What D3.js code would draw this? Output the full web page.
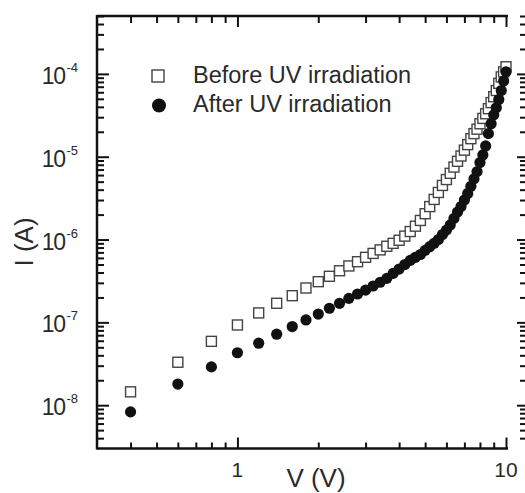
<!DOCTYPE html>
<html>
<head>
<meta charset="utf-8">
<script src="https://cdn.jsdelivr.net/npm/d3@7"></script>
<style>
  body { margin: 0; background: #fff; }
  text { font-family: "Liberation Sans", Arial, sans-serif; fill: #2a2a2a; }
</style>
</head>
<body>
<div id="chart"></div>
<script>
// voltage points (V)
var voltage = [0.4, 0.6, 0.8, 1.0, 1.2, 1.4, 1.6, 1.8, 2.0, 2.2, 2.4, 2.6, 2.8, 3.0, 3.2, 3.4, 3.6, 3.8,
  4.0, 4.2, 4.4, 4.6, 4.8, 5.0, 5.2, 5.4, 5.6, 5.8, 6.0, 6.2, 6.4, 6.6, 6.8, 7.0, 7.2, 7.4, 7.6, 7.8,
  8.0, 8.2, 8.4, 8.6, 8.8, 9.0, 9.2, 9.4, 9.6, 9.8, 10.0];

// current before UV (A)
var currentBefore = [1.45e-8, 3.3e-8, 5.9e-8, 9.3e-8, 1.3e-7, 1.7e-7, 2.1e-7, 2.6e-7, 3.1e-7, 3.6e-7,
  4.2e-7, 4.8e-7, 5.4e-7, 6.1e-7, 6.8e-7, 7.5e-7, 8.3e-7, 9.0e-7, 9.8e-7, 1.1e-6, 1.25e-6, 1.45e-6,
  1.7e-6, 2.05e-6, 2.5e-6, 3.05e-6, 3.7e-6, 4.5e-6, 5.3e-6, 6.3e-6, 7.5e-6, 8.8e-6, 1.02e-5, 1.2e-5,
  1.4e-5, 1.65e-5, 1.9e-5, 2.15e-5, 2.5e-5, 2.9e-5, 3.3e-5, 3.8e-5, 4.5e-5, 5.3e-5, 6.3e-5, 7.7e-5,
  9.2e-5, 1.06e-4, 1.22e-4];

// current after UV (A)
var currentAfter = [8.3e-9, 1.8e-8, 2.9e-8, 4.3e-8, 5.6e-8, 7.2e-8, 8.9e-8, 1.07e-7, 1.26e-7, 1.48e-7,
  1.7e-7, 1.95e-7, 2.2e-7, 2.45e-7, 2.75e-7, 3.05e-7, 3.4e-7, 3.9e-7, 4.4e-7, 5.0e-7, 5.6e-7, 6.1e-7,
  6.6e-7, 7.4e-7, 8.2e-7, 9.0e-7, 1.0e-6, 1.15e-6, 1.3e-6, 1.5e-6, 1.8e-6, 2.15e-6, 2.5e-6, 3.0e-6,
  3.6e-6, 4.4e-6, 5.4e-6, 6.6e-6, 8.5e-6, 1.05e-5, 1.35e-5, 1.9e-5, 2.5e-5, 3.2e-5, 3.9e-5, 4.9e-5,
  6.3e-5, 8.2e-5, 1.06e-4];

var seriesNames = ["Before UV irradiation", "After UV irradiation"];

// ticks
var xMajor = [1, 10];
var xMinor = [0.4, 0.5, 0.6, 0.7, 0.8, 0.9, 2, 3, 4, 5, 6, 7, 8, 9];
var xLabels = ["1", "10"];
var yMajor = [1e-8, 1e-7, 1e-6, 1e-5, 1e-4];
var yMinor = [4e-9, 5e-9, 6e-9, 7e-9, 8e-9, 9e-9,
  2e-8, 3e-8, 4e-8, 5e-8, 6e-8, 7e-8, 8e-8, 9e-8,
  2e-7, 3e-7, 4e-7, 5e-7, 6e-7, 7e-7, 8e-7, 9e-7,
  2e-6, 3e-6, 4e-6, 5e-6, 6e-6, 7e-6, 8e-6, 9e-6,
  2e-5, 3e-5, 4e-5, 5e-5, 6e-5, 7e-5, 8e-5, 9e-5,
  2e-4, 3e-4, 4e-4, 5e-4];
var yExponents = ["-8", "-7", "-6", "-5", "-4"];

var width = 525, height = 493;
var plotLeft = 97, plotRight = 506, plotTop = 16, plotBottom = 448.5;

var x = d3.scaleLog().domain([0.3, 10]).range([plotLeft, plotRight]);
var y = d3.scaleLog().domain([3e-9, 5e-4]).range([plotBottom, plotTop]);

var svg = d3.select("#chart").append("svg")
  .attr("width", width)
  .attr("height", height);

// draws inward ticks with an axis generator, no labels
function ticks(axisFn, scale, values, size, tx, ty) {
  var g = svg.append("g")
    .attr("transform", "translate(" + tx + "," + ty + ")")
    .call(axisFn(scale).tickValues(values).tickSize(-size).tickFormat(""));
  g.select(".domain").remove();
  g.selectAll("line").attr("stroke", "#111").attr("stroke-width", 2);
  return g;
}

ticks(d3.axisBottom, x, xMinor, 6, 0, plotBottom);
ticks(d3.axisBottom, x, xMajor, 11, 0, plotBottom);
ticks(d3.axisTop, x, xMinor, 7, 0, plotTop);
ticks(d3.axisTop, x, xMajor, 11, 0, plotTop);
ticks(d3.axisLeft, y, yMinor, 7, plotLeft, 0);
ticks(d3.axisLeft, y, yMajor, 12, plotLeft, 0);
// right side ticks (axis line itself sits just off the picture)
ticks(d3.axisRight, y, yMinor, 5, 525, 0);
ticks(d3.axisRight, y, yMajor, 8, 525, 0);

// frame lines
svg.append("line").attr("x1", plotLeft).attr("x2", plotLeft).attr("y1", plotTop - 1).attr("y2", plotBottom + 1)
  .attr("stroke", "#111").attr("stroke-width", 2.5);
svg.append("line").attr("x1", plotLeft).attr("x2", plotRight + 2).attr("y1", plotBottom).attr("y2", plotBottom)
  .attr("stroke", "#111").attr("stroke-width", 2.5);
svg.append("line").attr("x1", plotLeft).attr("x2", plotRight + 2).attr("y1", plotTop).attr("y2", plotTop)
  .attr("stroke", "#111").attr("stroke-width", 2.5);

// tick labels
svg.selectAll(".xlab").data(xMajor).enter().append("text")
  .attr("x", function (d) { return x(d); })
  .attr("y", 477)
  .attr("text-anchor", "middle")
  .style("font-size", "21px")
  .text(function (d, i) { return xLabels[i]; });

var ylab = svg.selectAll(".ylab").data(yMajor).enter().append("text")
  .attr("x", 78)
  .attr("y", function (d) { return y(d) + 10; })
  .attr("text-anchor", "end")
  .style("font-size", "23px")
  .style("letter-spacing", "-1.5px");
ylab.append("tspan").text("10");
ylab.append("tspan").attr("dy", -12).attr("dx", 2).style("font-size", "13px")
  .style("letter-spacing", "0px")
  .text(function (d, i) { return yExponents[i]; });

// axis titles
svg.append("text")
  .attr("x", 316).attr("y", 487)
  .attr("text-anchor", "middle")
  .style("font-size", "26px")
  .text("V (V)");
svg.append("text")
  .attr("transform", "translate(33,242) rotate(-90)")
  .attr("text-anchor", "middle")
  .style("font-size", "26px")
  .text("I (A)");

// data
var before = voltage.map(function (v, i) { return { v: v, c: currentBefore[i] }; });
var after = voltage.map(function (v, i) { return { v: v, c: currentAfter[i] }; });

var sq = 10;
svg.append("g").selectAll("rect").data(before).enter().append("rect")
  .attr("x", function (d) { return x(d.v) - sq / 2; })
  .attr("y", function (d) { return y(d.c) - sq / 2; })
  .attr("width", sq).attr("height", sq)
  .attr("fill", "#fff")
  .attr("stroke", "#444")
  .attr("stroke-width", 1.4);

svg.append("g").selectAll("circle").data(after).enter().append("circle")
  .attr("cx", function (d) { return x(d.v); })
  .attr("cy", function (d) { return y(d.c); })
  .attr("r", 5.6)
  .attr("fill", "#111");

// legend
var legend = svg.append("g");
legend.append("rect")
  .attr("x", 152).attr("y", 70).attr("width", 12).attr("height", 12)
  .attr("fill", "#fff").attr("stroke", "#444").attr("stroke-width", 1.4);
legend.append("circle")
  .attr("cx", 159).attr("cy", 105.5).attr("r", 7)
  .attr("fill", "#111");
legend.selectAll("text").data(seriesNames).enter().append("text")
  .attr("x", 193)
  .attr("y", function (d, i) { return 83 + i * 28.5; })
  .style("font-size", "23.5px")
  .text(function (d) { return d; });
</script>
</body>
</html>
